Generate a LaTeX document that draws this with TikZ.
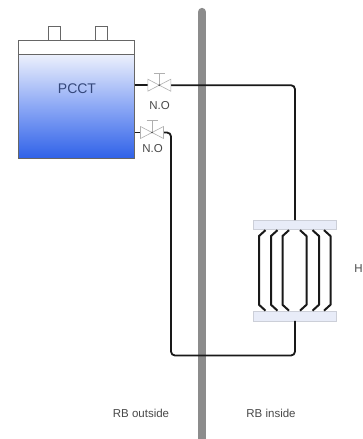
\documentclass[tikz,border=0pt]{standalone}
\usepackage{fontspec}
\setmainfont{Liberation Sans}
\usetikzlibrary{calc}
\definecolor{wallgray}{HTML}{8C8C8C}
\definecolor{tankedge}{HTML}{666666}
\definecolor{labelgray}{HTML}{484848}
\definecolor{pcctblue}{HTML}{34477A}
\definecolor{plate}{HTML}{E8ECF8}
\definecolor{plateedge}{HTML}{CCCFD8}
\definecolor{valveedge}{HTML}{B0B0B0}
\tikzset{
  x=1pt,y=-1pt,
  pipe/.style={line width=1.8pt,black!90,rounded corners=4pt},
  tube/.style={line width=2pt,black!90,line join=round},
  lbl/.style={font=\fontsize{11.5}{12}\selectfont,text=labelgray,inner sep=0pt},
  vlv/.style={draw=valveedge,line width=0.6pt,fill=white},
  hxplate/.style={draw=plateedge,line width=0.5pt,fill=plate,minimum width=83pt,minimum height=9.5pt,inner sep=0pt,outer sep=0pt},
  stub/.style={draw=tankedge,line width=0.8pt,fill=white,minimum width=12pt,minimum height=14pt,inner sep=0pt,outer sep=0pt},
}
\newcommand{\valveat}[1]{%
  \draw[vlv] ($(#1)+(-11.5,-6)$) -- ($(#1)+(11.5,6)$) -- ($(#1)+(11.5,-6)$) -- ($(#1)+(-11.5,6)$) -- cycle;
  \draw[vlv] (#1) -- ($(#1)+(0,-12)$) ($(#1)+(-5.5,-12)$) -- ($(#1)+(5.5,-12)$);
  \fill[black!70] (#1) circle (0.9pt);
}
\newcommand{\tubepair}[2]{%
  \draw[tube] ($(pt.south west)+(#1,0.6)+(#2,0)$) -- ($(pt.south west)+(#1,6.5)$) -- ($(pb.north west)+(#1,-6.5)$) -- ($(pb.north west)+(#1,-0.6)+(#2,0)$);
}
\begin{document}
\begin{tikzpicture}
\useasboundingbox (0,0) rectangle (363,439);
% wall
\draw[wallgray,line width=8.3pt,line cap=round] (202,12) coordinate (wt) -- (202,445) coordinate (wb);
% stubs
\node[stub] (s1) at (54.3,33) {};
\node[stub] (s2) at (101,33) {};
% tank
\node[draw=tankedge,line width=0.8pt,fill=white,minimum width=116.5pt,minimum height=117.5pt,inner sep=0pt,outer sep=0pt] (tank) at (76.25,99.25) {};
\shade[top color={rgb,255:red,236;green,240;blue,252},bottom color={rgb,255:red,48;green,98;blue,232},middle color={rgb,255:red,140;green,168;blue,245}] (18,54.5) rectangle (134.5,158);
\draw[tankedge,line width=0.8pt] (tank.north west) rectangle (tank.south east);
\draw[tankedge,line width=0.8pt] (18,54.5) -- (134.5,54.5);
\node[font=\fontsize{14}{15}\selectfont,text=pcctblue,inner sep=0pt] (pcct) at (77,89) {PCCT};
% plates
\node[hxplate] (pt) at (294.5,224.8) {};
\node[hxplate] (pb) at (294.5,316) {};
% valves
\coordinate (v1) at (159.3,85.2);
\coordinate (v2) at (152,132.5);
\coordinate (t1) at (134.5,85.2);
\coordinate (t2) at (134.5,132.5);
\coordinate (c1) at (295,85.2);
\coordinate (c2) at (171,132.5);
\coordinate (c3) at (171,355.5);
\coordinate (c4) at (295,355.5);
% pipes
\draw[pipe] (t1) -- ($(v1)+(-11.5,0)$);
\draw[pipe] ($(v1)+(11.5,0)$) -- (c1) -- (c1 |- pt.north);
\draw[pipe] (t2) -- ($(v2)+(-11.5,0)$);
\draw[pipe] ($(v2)+(11.5,0)$) -- (c2) -- (c3) -- (c4) -- (c4 |- pb.south);
\valveat{v1}
\valveat{v2}
\node[lbl] (no1) at (159.5,105.3) {N.O};
\node[lbl] (no2) at (152.5,148.3) {N.O};
% tubes
\tubepair{6}{6.5}
\tubepair{18}{6.5}
\tubepair{29.5}{6.5}
\tubepair{53.5}{-6.5}
\tubepair{66}{-6.5}
\tubepair{77.5}{-6.5}
\node[lbl] (h) at (358.5,269) {H};
\node[lbl] (out) at (141,413) {RB outside};
\node[lbl] (in) at (271,413) {RB inside};
\end{tikzpicture}
\end{document}
